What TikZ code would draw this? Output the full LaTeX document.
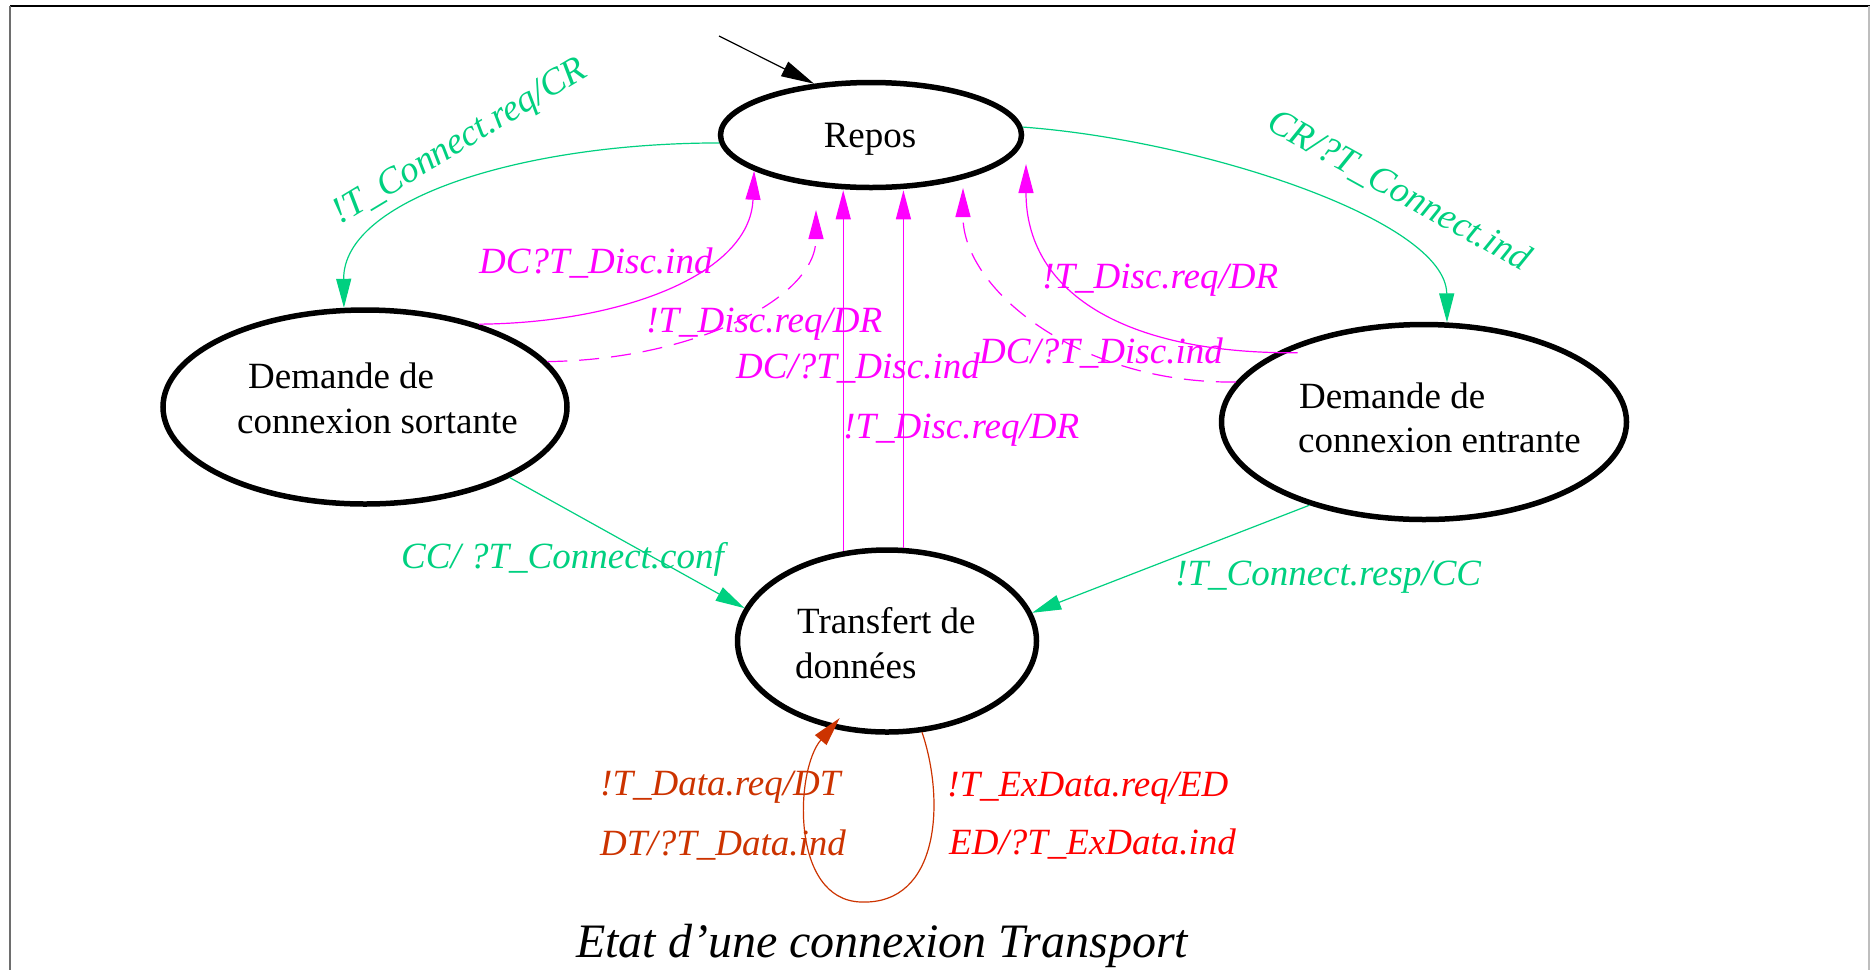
\documentclass[tikz,border=0pt]{standalone}
\usepackage{fontspec}
\setmainfont{Liberation Serif}
\usetikzlibrary{arrows.meta,shapes.geometric}
\definecolor{trgreen}{RGB}{0,208,128}
\definecolor{trmag}{RGB}{255,0,255}
\definecolor{trorange}{RGB}{204,51,0}
\definecolor{trred}{RGB}{255,0,0}
\definecolor{frgray}{RGB}{110,110,110}
\definecolor{frlight}{RGB}{190,190,190}
\newcommand\lblsize{\fontsize{37}{44}\selectfont}

\begin{document}
\begin{tikzpicture}[x=1pt,y=-1pt,
  state/.style={ellipse, draw=black, line width=5.5pt, inner sep=0pt},
  txt/.style={inner sep=0pt, anchor=base west, font=\lblsize},
  lbl/.style={inner sep=0pt, anchor=base west, font=\lblsize\itshape},
  tipA/.style={-{Triangle[length=29pt,width=15pt]}},
  gconn/.style={trgreen, line width=1.2pt, tipA},
  mconn/.style={trmag, line width=1.2pt, tipA},
  mdash/.style={mconn, dash pattern=on 20pt off 12pt},
  oconn/.style={trorange, line width=1.2pt, tipA}]

\useasboundingbox (0,0) rectangle (1870,970);

% frame
\draw[line width=1.5pt] (10,6) -- (1870,6);
\draw[frgray, line width=2pt] (10,6) -- (10,970);
\draw[frlight, line width=1.5pt] (1869,6) -- (1869,970);

% states
\node[state, minimum width=301pt, minimum height=105pt] (repos) at (871,135) {};
\node[state, minimum width=404pt, minimum height=194pt] (sortante) at (365,407) {};
\node[state, minimum width=405pt, minimum height=195pt] (entrante) at (1424,422) {};
\node[state, minimum width=299pt, minimum height=182pt] (transfert) at (887,641) {};

\node[txt, anchor=base] (reposT) at (870,147) {Repos};
\node[txt] (sortT1) at (248,388) {Demande de};
\node[txt] (sortT2) at (237,433) {connexion sortante};
\node[txt] (entrT1) at (1299,408) {Demande de};
\node[txt] (entrT2) at (1298,452) {connexion entrante};
\node[txt] (trT1) at (797,633) {Transfert de};
\node[txt] (trT2) at (795,678) {données};

% initial state
\coordinate (init) at (719,36);
\draw[line width=1.2pt, -{Triangle[length=33pt,width=16pt]}] (init) -- (repos.138);

% connection set-up
\draw[gconn] (repos.183) .. controls (520,143) and (343,200) .. (sortante.102.5);
\node[lbl, anchor=base, rotate=31, text=trgreen] (lreq) at (465,150) {!T\_Connect.req/CR};

\draw[gconn] (repos.3) .. controls (1200,140) and (1446,220) .. (entrante.77.5);
\node[lbl, anchor=base, rotate=-29, text=trgreen] (lind) at (1394,200) {CR/?T\_Connect.ind};

\draw[gconn] (sortante.334.9) -- (transfert.167.6);
\node[lbl, text=trgreen] (lconf) at (401,568) {CC/ ?T\_Connect.conf};

\draw[gconn] (entrante.216.6) -- (transfert.11.2);
\node[lbl, text=trgreen] (lresp) at (1175,585) {!T\_Connect.resp/CC};

% disconnection
\coordinate (tipL) at (816,210);
\coordinate (tipR) at (963,188);
\coordinate (tipRR) at (1026,164);

\draw[mconn] (sortante.36.4) .. controls (620,323) and (750,275) .. (repos.197);
\node[lbl, text=trmag] (ld1) at (479,273) {DC?T\_Disc.ind};

\draw[mdash] (sortante.14.6) .. controls (690,360) and (816,300) .. (tipL);
\node[lbl, text=trmag] (ld2) at (646,332) {!T\_Disc.req/DR};

\draw[mconn] (transfert.116.7) -- (transfert.116.7 |- repos.south);
\node[lbl, text=trmag] (ld3) at (736,378) {DC/?T\_Disc.ind};

\draw[mconn] (transfert.80.8) -- (transfert.80.8 |- repos.south);
\node[lbl, text=trmag] (ld4) at (843,438) {!T\_Disc.req/DR};

\draw[mdash] (entrante.168.6) .. controls (1080,384) and (963,290) .. (tipR);
\node[lbl, text=trmag] (ld5) at (979,363) {DC/?T\_Disc.ind};

\draw[mconn] ([xshift=22pt]entrante.155.6) .. controls (1120,354) and (1026,290) .. (tipRR);
\node[lbl, text=trmag] (ld6) at (1042,288) {!T\_Disc.req/DR};

% data transfer loop
\draw[oconn] (transfert.291.5) .. controls (945,800) and (940,905) .. (861,902)
  .. controls (790,900) and (795,770) .. ([yshift=12pt]transfert.242.2);
\node[lbl, text=trorange] (ldt1) at (600,795) {!T\_Data.req/DT};
\node[lbl, text=trorange] (ldt2) at (600,855) {DT/?T\_Data.ind};
\node[lbl, text=trred] (led1) at (947,796) {!T\_ExData.req/ED};
\node[lbl, text=trred] (led2) at (949,854) {ED/?T\_ExData.ind};

% caption
\node[inner sep=0pt, anchor=base west, font=\fontsize{48}{56}\selectfont\itshape] (title) at (576,957) {Etat d’une connexion Transport};
\end{tikzpicture}
\end{document}
